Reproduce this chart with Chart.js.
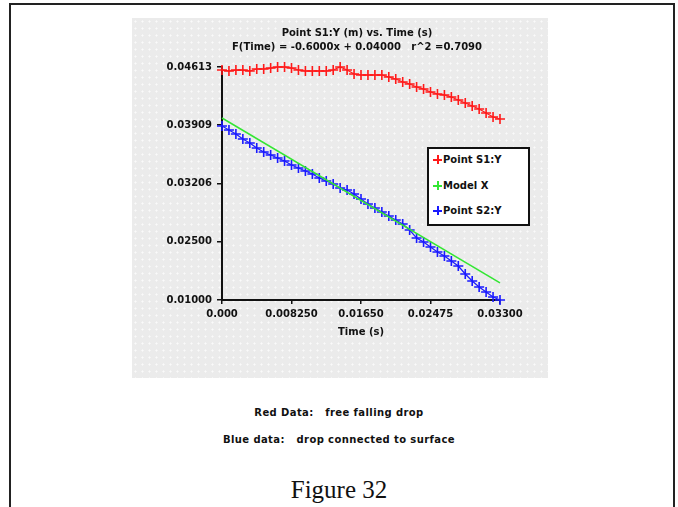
<!DOCTYPE html>
<html>
<head>
<meta charset="utf-8">
<script src="https://cdn.jsdelivr.net/npm/chart.js@4"></script>
<style>
  body { margin: 0; background: #fff; width: 678px; height: 507px; overflow: hidden; position: relative; }
  #frame { position: absolute; left: 9px; top: 3px; width: 662px; height: 600px; border: 2px solid #222; border-bottom: none; }
  #panel { position: absolute; left: 132px; top: 18px; width: 416px; height: 360px;
    background-color: #ebebeb;
    background-image: radial-gradient(circle, #fafafa 0.8px, transparent 1.3px);
    background-size: 7px 7px; }
  #legend { position: absolute; left: 427px; top: 147px; width: 99px; height: 75px; background: #fff; border: 2px solid #111;
    font: bold 10px "DejaVu Sans", sans-serif; color: #111; }
  .item { position: absolute; left: 4px; height: 12px; line-height: 12px; }
  .mark { display: inline-block; width: 10px; position: relative; height: 12px; vertical-align: top; }
  .note { position: absolute; width: 678px; text-align: center; font: bold 10px "DejaVu Sans", sans-serif; letter-spacing: 0.4px; color: #111; }
  #fig { position: absolute; width: 678px; text-align: center; top: 476px; font: 25px "Liberation Serif", serif; color: #111; }
</style>
</head>
<body>
<div id="frame"></div>
<div id="panel"><canvas id="myChart" width="416" height="360"></canvas></div>
<div id="legend"></div>
<div class="note" style="top:407px">Red Data:&nbsp;&nbsp;&nbsp;free falling drop</div>
<div class="note" style="top:434px">Blue data:&nbsp;&nbsp;&nbsp;drop connected to surface</div>
<div id="fig">Figure 32</div>
<script>
var times = [0, 0.000825, 0.00165, 0.002475, 0.0033, 0.004125, 0.00495, 0.005775, 0.0066, 0.007425,
  0.00825, 0.009075, 0.0099, 0.010725, 0.01155, 0.012375, 0.0132, 0.014025, 0.01485, 0.015675,
  0.0165, 0.017325, 0.01815, 0.018975, 0.0198, 0.020625, 0.02145, 0.022275, 0.0231, 0.023925,
  0.02475, 0.025575, 0.0264, 0.027225, 0.02805, 0.028875, 0.0297, 0.030525, 0.03135, 0.032175, 0.033]

var pointS1 = [0.04566, 0.04551, 0.04566, 0.04566, 0.04551, 0.04582, 0.04582, 0.04597, 0.04613, 0.04613,
  0.04597, 0.04566, 0.04551, 0.04551, 0.04551, 0.04551, 0.04566, 0.04613, 0.04566, 0.04504,
  0.04489, 0.04489, 0.04489, 0.04489, 0.04458, 0.04427, 0.04380, 0.04349, 0.04303, 0.04272,
  0.04225, 0.04194, 0.04179, 0.04148, 0.04101, 0.04055, 0.04008, 0.03962, 0.03900, 0.03838, 0.03807]

var pointS2 = [0.03698, 0.03636, 0.03574, 0.03496, 0.03434, 0.03357, 0.03295, 0.03248, 0.03202, 0.03155,
  0.03093, 0.03047, 0.03000, 0.02954, 0.02892, 0.02845, 0.02799, 0.02737, 0.02706, 0.02644,
  0.02566, 0.02489, 0.02427, 0.02365, 0.02303, 0.02240, 0.02178, 0.02085, 0.01961, 0.01899,
  0.01822, 0.01744, 0.01682, 0.01605, 0.01527, 0.01403, 0.01295, 0.01202, 0.01124, 0.01047, 0.01000]

var modelTimes = [0, 0.033]
var modelX = [0.03822, 0.01264]

var xTicks = [0, 0.00825, 0.0165, 0.02475, 0.033]
var xTickLabels = ['0.000', '0.008250', '0.01650', '0.02475', '0.03300']
var yTicks = [0.01, 0.01903, 0.02807, 0.0371, 0.04613]
var yTickLabels = ['0.01000', '0.02500', '0.03206', '0.03909', '0.04613']

var seriesNames = ['Point S1:Y', 'Model X', 'Point S2:Y']
var seriesColors = ['#ff1a1a', '#33e633', '#1a1aff']

function pairs(xs, ys) {
  var out = []
  for (var i = 0; i < xs.length; i++) out.push({x: xs[i], y: ys[i]})
  return out
}

var tickFont = {family: 'DejaVu Sans', size: 10, weight: 'bold'}

var ctx = document.getElementById('myChart')
var myChart = new Chart(ctx, {
  type: 'scatter',
  data: {
    datasets: [{
      label: seriesNames[0],
      data: pairs(times, pointS1),
      showLine: true,
      borderColor: seriesColors[0],
      borderWidth: 1.2,
      pointStyle: 'cross',
      pointRadius: 5,
      pointBorderColor: seriesColors[0],
      pointBorderWidth: 1.6,
      clip: false
    }, {
      label: seriesNames[1],
      data: pairs(modelTimes, modelX),
      showLine: true,
      borderColor: seriesColors[1],
      borderWidth: 1.5,
      pointRadius: 0,
      clip: false
    }, {
      label: seriesNames[2],
      data: pairs(times, pointS2),
      showLine: true,
      borderColor: seriesColors[2],
      borderWidth: 1.2,
      pointStyle: 'cross',
      pointRadius: 5,
      pointBorderColor: seriesColors[2],
      pointBorderWidth: 1.6,
      clip: false
    }]
  },
  options: {
    responsive: false,
    animation: false,
    layout: {padding: {left: 34, right: 0, top: 0, bottom: 0}},
    plugins: {
      legend: {display: false},
      tooltip: {enabled: false},
      title: {
        display: true,
        text: ['Point S1:Y (m) vs. Time (s)', 'F(Time) = -0.6000x + 0.04000   r^2 =0.7090'],
        color: '#111',
        font: {family: 'DejaVu Sans', size: 10, weight: 'bold', lineHeight: 1.4},
        padding: {top: 8, bottom: 13}
      }
    },
    scales: {
      x: {
        type: 'linear',
        min: 0,
        max: 0.033,
        afterFit: function (s) { s.height = 78 },
        afterBuildTicks: function (s) { s.ticks = xTicks.map(function (v) { return {value: v} }) },
        ticks: {
          autoSkip: false,
          maxRotation: 0,
          padding: 4,
          color: '#111',
          font: tickFont,
          callback: function (v, i) { return xTickLabels[i] }
        },
        grid: {drawOnChartArea: false, tickLength: 4, color: '#111', lineWidth: 1.5},
        border: {color: '#111', width: 2},
        title: {display: true, text: 'Time (s)', color: '#111', font: tickFont, padding: {top: 0, bottom: 40}}
      },
      y: {
        type: 'linear',
        min: 0.01,
        max: 0.04613,
        afterFit: function (s) { s.width = 56 },
        afterBuildTicks: function (s) { s.ticks = yTicks.map(function (v) { return {value: v} }) },
        ticks: {
          autoSkip: false,
          padding: 5,
          color: '#111',
          font: tickFont,
          callback: function (v, i) { return yTickLabels[i] }
        },
        grid: {drawOnChartArea: false, tickLength: 5, color: '#111', lineWidth: 1.5},
        border: {color: '#111', width: 2}
      },
      // empty axis that only keeps room on the right of the plot
      y2: {
        position: 'right',
        display: true,
        afterFit: function (s) { s.width = 48 },
        ticks: {display: false},
        grid: {display: false},
        border: {display: false}
      }
    }
  }
})

// legend box drawn as html, built from the dataset list
var legend = document.getElementById('legend')
var tops = [5, 31, 56]
myChart.data.datasets.forEach(function (ds, i) {
  var item = document.createElement('div')
  item.className = 'item'
  item.style.top = tops[i] + 'px'
  item.innerHTML = '<span class="mark"><span style="position:absolute;left:0;top:5px;width:9px;height:1.6px;background:' + ds.borderColor +
    '"></span><span style="position:absolute;left:4px;top:1px;width:1.6px;height:9px;background:' + ds.borderColor + '"></span></span>' + ds.label
  legend.appendChild(item)
})
</script>
</body>
</html>
